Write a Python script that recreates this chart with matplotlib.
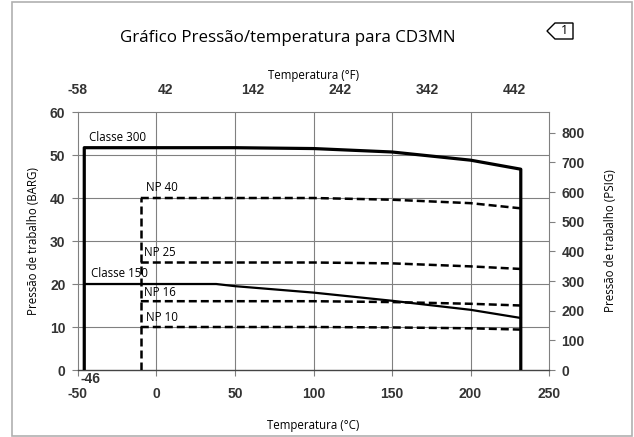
import numpy as np
import matplotlib
matplotlib.use('Agg')
import matplotlib.pyplot as plt
from matplotlib.patches import Rectangle, Polygon

plt.rcParams['axes.unicode_minus'] = False

# ── 데이터 ──────────────────────────────────────────────────
temp_c_class = [-46, 38, 50, 100, 150, 200, 232]
classe_300 = [51.7, 51.7, 51.7, 51.5, 50.7, 48.8, 46.7]
classe_150 = [20.0, 20.0, 19.5, 18.0, 16.1, 14.0, 12.1]

temp_c_np = [-10, 50, 100, 150, 200, 232]
np_40 = [40.0, 40.0, 40.0, 39.6, 38.8, 37.6]
np_25 = [25.0, 25.0, 25.0, 24.8, 24.1, 23.5]
np_16 = [16.0, 16.0, 16.0, 15.8, 15.4, 15.0]
np_10 = [10.0, 10.0, 10.0, 9.9, 9.7, 9.4]

x_ticks_c = [-50, 0, 50, 100, 150, 200, 250]
x_ticks_f = [-58, 42, 142, 242, 342, 442]
y_ticks_bar = [0, 10, 20, 30, 40, 50, 60]
y_ticks_psi = [0, 100, 200, 300, 400, 500, 600, 700, 800]

BAR_TO_PSI = 14.5038
TXT_FONT = ['Open Sans', 'DejaVu Sans']
NUM_FONT = ['Liberation Sans', 'DejaVu Sans']
NUM_C = '#333333'
NUM_SIZE = 10
GRID_C = '#808080'

fig = plt.figure(figsize=(6.34, 4.37), dpi=100)
ax = fig.add_axes([0.123, 0.1533, 0.743, 0.5904])

# 그리드
for xv in [0, 50, 100, 150, 200]:
    ax.axvline(xv, color=GRID_C, linewidth=0.8, zorder=1)
for yv in [10, 20, 30, 40, 50]:
    ax.axhline(yv, color=GRID_C, linewidth=0.8, zorder=1)

# Classe 300 / 150 (실선)
ax.plot([temp_c_class[0]] + temp_c_class + [temp_c_class[-1]],
        [0] + classe_300 + [0], color='black', linewidth=2.3, zorder=3)
ax.plot(temp_c_class, classe_150, color='black', linewidth=1.6, zorder=3)

# NP 계열 (점선)
dash = dict(color='black', linewidth=1.8, linestyle=(0, (3.2, 1.6)), zorder=3)
ax.plot([temp_c_np[0], temp_c_np[0]], [0, np_40[0]], **dash)
for series in [np_40, np_25, np_16, np_10]:
    ax.plot(temp_c_np, series, **dash)

# 라벨
lab = dict(fontsize=8.3, family=TXT_FONT, color='black', va='bottom', zorder=4)
ax.text(-43, 52.6, 'Classe 300', **lab)
ax.text(-7, 40.9, 'NP 40', **lab)
ax.text(-8, 25.9, 'NP 25', **lab)
ax.text(-42, 20.9, 'Classe 150', **lab)
ax.text(-8, 16.6, 'NP 16', **lab)
ax.text(-7, 10.6, 'NP 10', **lab)
ax.text(-48.5, -0.4, '-46', fontsize=NUM_SIZE, family=NUM_FONT, color=NUM_C,
        fontweight='bold', va='top', zorder=4)

ax.set_xlim(-50, 250)
ax.set_ylim(0, 60)
ax.set_xticks(x_ticks_c)
ax.set_yticks(y_ticks_bar)
ax.tick_params(axis='both', direction='out', length=4, width=0.8,
               color=GRID_C, labelsize=NUM_SIZE, labelcolor=NUM_C, pad=5)
ax.tick_params(axis='x', pad=8)
for lbl in ax.get_xticklabels() + ax.get_yticklabels():
    lbl.set_family(NUM_FONT)
    lbl.set_fontweight('bold')
ax.set_xlabel('Temperatura (°C)', fontsize=8.3, family=TXT_FONT, labelpad=13)
ax.set_ylabel('Pressão de trabalho (BARG)', fontsize=8.3, family=TXT_FONT, labelpad=7)

for side in ['top', 'right', 'left']:
    ax.spines[side].set_color(GRID_C)
    ax.spines[side].set_linewidth(0.8)
ax.spines['bottom'].set_color('#444444')
ax.spines['bottom'].set_linewidth(1.0)

# 위쪽 °F 축
def c_to_f(c):
    return np.asarray(c) * 9 / 5 + 32

def f_to_c(f):
    return (np.asarray(f) - 32) * 5 / 9

top = ax.secondary_xaxis('top', functions=(c_to_f, f_to_c))
top.set_xticks(x_ticks_f)
top.tick_params(length=0, labelsize=NUM_SIZE, labelcolor=NUM_C, pad=11)
for lbl in top.get_xticklabels():
    lbl.set_family(NUM_FONT)
    lbl.set_fontweight('bold')
top.spines['top'].set_visible(False)
top.set_xlabel('Temperatura (°F)', fontsize=8.3, family=TXT_FONT, labelpad=3)

# 오른쪽 PSIG 축
right = ax.secondary_yaxis('right', functions=(lambda b: b * BAR_TO_PSI,
                                               lambda p: p / BAR_TO_PSI))
right.set_yticks(y_ticks_psi)
right.tick_params(direction='out', length=4, width=0.8, color=GRID_C,
                  labelsize=NUM_SIZE, labelcolor=NUM_C, pad=5)
for lbl in right.get_yticklabels():
    lbl.set_family(NUM_FONT)
    lbl.set_fontweight('bold')
right.spines['right'].set_visible(False)
right.set_ylabel('Pressão de trabalho (PSIG)', fontsize=8.3, family=TXT_FONT, labelpad=14)

# 제목 + 태그
fig.text(0.19, 0.912, 'Gráfico Pressão/temperatura para CD3MN',
         fontsize=12.2, family=TXT_FONT, va='center', ha='left')
tag_x = [547, 555, 573, 573, 555]
tag_y = [31, 23, 23, 39, 39]
fig.patches.append(Polygon(np.column_stack([np.array(tag_x) / 634, 1 - np.array(tag_y) / 437]),
                           closed=True, fill=False, edgecolor='black', linewidth=1.0,
                           transform=fig.transFigure))
fig.text(564 / 634, 1 - 31 / 437, '1', fontsize=9, family=TXT_FONT,
         ha='center', va='center')

# 바깥 테두리
fig.patches.append(Rectangle((12 / 634, 1 / 437), 620 / 634, 434 / 437, fill=False,
                             edgecolor='#b0b0b0', linewidth=1.2,
                             transform=fig.transFigure))

fig.savefig('out.png', dpi=100)
